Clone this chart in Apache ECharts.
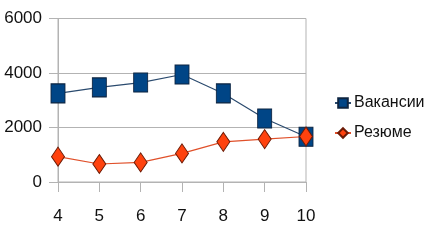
<!DOCTYPE html>
<html><head><meta charset="utf-8">
<script src="https://cdn.jsdelivr.net/npm/echarts@6/dist/echarts.min.js"></script>
<style>html,body{margin:0;padding:0;background:#fff}#c{width:439px;height:240px}</style>
</head><body><div id="c"></div>
<script>
const categories = ['4','5','6','7','8','9','10'];
const vacancies = [3250, 3470, 3650, 3945, 3250, 2330, 1660];
const resumes = [930, 660, 720, 1050, 1475, 1575, 1670];
const seriesNames = ['Вакансии', 'Резюме'];
const yTicks = [0, 2000, 4000, 6000];

const font = '"Liberation Sans Narrow", "Liberation Sans", Arial, sans-serif';
const chart = echarts.init(document.getElementById('c'));
chart.setOption({
  animation: false,
  backgroundColor: '#fff',
  grid: {left: 58, right: 133, top: 18.5, bottom: 58, show: true, borderColor: '#b3b3b3', borderWidth: 1},
  legend: {
    orient: 'vertical', left: 329, top: 90, itemGap: 14,
    itemWidth: 16, itemHeight: 12,
    textStyle: {fontFamily: font, fontSize: 16, color: '#111', padding: [0,0,0,-2]},
    data: seriesNames
  },
  xAxis: {
    type: 'category', data: categories, boundaryGap: false,
    axisLine: {lineStyle: {color: '#b3b3b3'}},
    axisTick: {show: true, length: 10, lineStyle: {color: '#b3b3b3'}, alignWithLabel: true},
    axisLabel: {fontFamily: font, fontSize: 17, color: '#111', margin: 26}
  },
  yAxis: {
    type: 'value', min: yTicks[0], max: yTicks[yTicks.length-1], interval: 2000,
    axisLine: {show: true, lineStyle: {color: '#b3b3b3'}},
    axisTick: {show: true, length: 9, lineStyle: {color: '#b3b3b3'}},
    splitLine: {lineStyle: {color: '#b3b3b3'}},
    axisLabel: {fontFamily: font, fontSize: 17, color: '#111', margin: 16,
                formatter: v => String(v)}
  },
  series: [
    {name: seriesNames[0], type: 'line', data: vacancies, symbol: 'rect', symbolSize: [14, 19],
     itemStyle: {color: '#004586', borderColor: '#0d2440', borderWidth: 1},
     lineStyle: {color: '#2a4a6e', width: 1.2}},
    {name: seriesNames[1], type: 'line', data: resumes, symbol: 'diamond', symbolSize: [13, 19],
     itemStyle: {color: '#ff420e', borderColor: '#6b1a05', borderWidth: 1},
     lineStyle: {color: '#e0502a', width: 1.2}}
  ]
});
</script></body></html>
